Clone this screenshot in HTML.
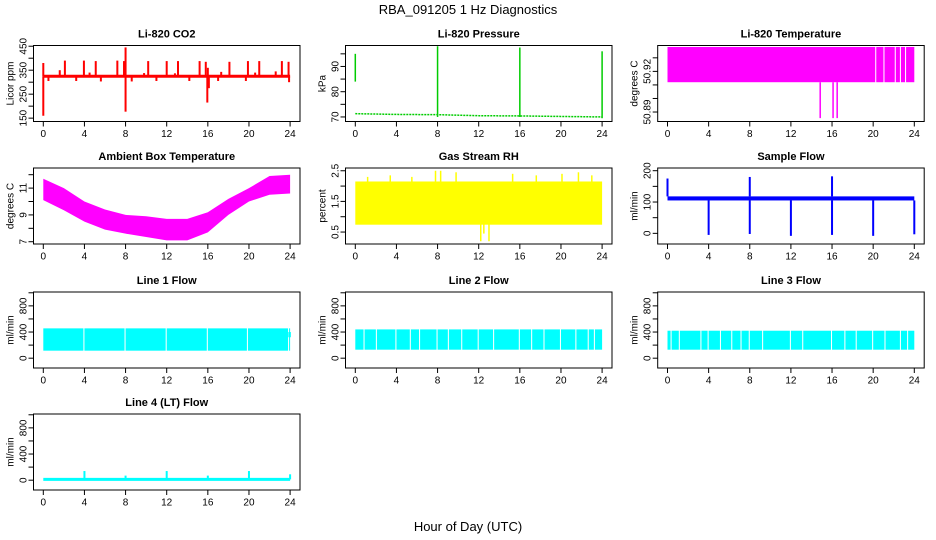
<!DOCTYPE html>
<html><head><meta charset="utf-8">
<style>
html,body{margin:0;padding:0;background:#fff;}
svg{display:block;font-family:"Liberation Sans",Arial,sans-serif;}
.t{font-size:11px;font-weight:bold;text-anchor:middle;}
.tk{font-size:10px;text-anchor:middle;}
</style></head>
<body>
<svg id="chart" width="936" height="540" viewBox="0 0 936 540" xmlns="http://www.w3.org/2000/svg">
<text x="468" y="14" style="font-size:13px;text-anchor:middle">RBA_091205  1 Hz Diagnostics</text>
<text x="468" y="531" style="font-size:13px;text-anchor:middle">Hour of Day (UTC)</text>
</svg>
<script>
// ---- data ----
const xTicks = [0,4,8,12,16,20,24];
// CO2
const co2Base = 325;
const co2SpikeHours = [0,2.1,3.95,5.1,7.2,7.85,8.0,10.2,12.0,13.1,15.2,15.8,16.0,18.1,19.9,21.0,23.2,23.85,1.6,4.5,9.8,12.8,17.3,20.6,22.6,0,8.0,15.95,16.1,0.5,3.2,5.6,8.6,11.0,14.2,17.0,19.7,23.9];
const co2SpikeValues = [380,390,390,388,390,388,445,388,388,388,388,385,360,385,388,388,388,385,350,340,338,337,343,340,345,160,177,215,275,305,305,303,303,305,305,305,305,300];
// Pressure
const presHours = [0,4,8,12,16,20,24];
const presValues = [71.3,71.0,70.9,70.5,70.4,70.2,70.0];
const presSpikeHours = [0,8,16,24];
const presSpikeLow = [84,70,70,69.5];
const presSpikeHigh = [95,98,97.5,96];
// Li-820 temperature
const ltempLow = 50.912, ltempHigh = 50.938;
const ltempGapHours = [20.2,21.0,22.1,22.6,23.1];
const ltempDipHours = [14.85,16.1,16.5];
const ltempDipValue = 50.8855;
// Ambient box temperature
const ambHours = [0,2,4,6,8,10,12,14,16,18,20,22,24];
const ambHigh = [11.7,11.0,10.0,9.4,9.0,8.9,8.7,8.7,9.2,10.2,11.0,11.9,12.0];
const ambLow = [10.1,9.35,8.5,7.9,7.6,7.35,7.1,7.1,7.7,9.0,10.0,10.5,10.6];
// Gas stream RH
const rhLow = 0.74, rhHigh = 2.15;
const rhSpikeHours = [1.2,3.4,5.5,7.8,8.3,9.8,12.2,13.0,15.3,17.6,20.1,21.7,23.0,12.5];
const rhSpikeValues = [2.3,2.35,2.3,2.5,2.5,2.45,0.2,0.2,2.4,2.35,2.4,2.45,2.35,0.45];
// Sample flow
const sfLow = 105, sfHigh = 118;
const sfDropHours = [4,8,12,16,20,24];
const sfDropValues = [-5,-2,-8,-5,-8,-3];
const sfPeakHours = [0,8,16];
const sfPeakValues = [175,180,182];
// Line flows
const l1Low = 115, l1High = 456, l1Gaps = [3.9,7.9,11.9,15.9,19.8,23.8];
const l2Low = 130, l2High = 440, l2Gaps = [0.8,2.0,3.9,5.3,6.2,7.9,9.0,10.3,11.9,13.4,15.9,17.1,18.3,19.9,21.4,22.6,23.2];
const l3Low = 130, l3High = 420, l3Gaps = [0.3,1.1,3.2,3.9,5.1,6.2,7.1,7.9,9.2,11.9,13.1,15.9,17.2,18.3,19.9,21.1,22.6,23.3];
const l4Base = 12;
const l4SpikeHours = [4,8,12,16,20,24];
const l4SpikeValues = [140,70,140,70,140,90];

// ---- layout ----
const svg = document.getElementById('chart');
const NS = 'http://www.w3.org/2000/svg';
const colLeft = [33.5,345.5,657.7], rowTop = [45.5,168,292,414];
const W = 266.5, H = 76;
function mk(tag, attrs, parent){const e=document.createElementNS(NS,tag);for(const k in attrs)e.setAttribute(k,attrs[k]);(parent||svg).appendChild(e);return e;}

function panel(name, col, row, title, ylab, ymin, ymax, ticks, labels){
  const L = colLeft[col], T = rowTop[row];
  const g = mk('g',{});
  
  
  const xs = h => L + 9.8 + h*(246.8/24);
  const ys = v => T + H - (v-ymin)/(ymax-ymin)*H;
  const tt = mk('text',{x:L+W/2,y:T-8,class:'t'},g); tt.textContent = title;
  
  
  const yl = mk('text',{x:0,y:0,transform:`translate(${L-20},${T+H/2}) rotate(-90)`,class:'tk'},g); yl.textContent = ylab;
  
  
  const plot = mk('g',{},g);
  
  
  // x axis
  const xa = mk('g',{},g);
  
  
  xTicks.forEach(h=>{
    mk('line',{x1:xs(h),x2:xs(h),y1:T+H,y2:T+H+5,stroke:'#000'},xa);
    const t=mk('text',{x:xs(h),y:T+H+15.5,class:'tk'},xa); t.textContent=h;
  });
  mk('line',{x1:xs(0),x2:xs(24),y1:T+H,y2:T+H,stroke:'#000'},xa);
  const ya = mk('g',{},g);
  
  
  ticks.forEach((v,i)=>{
    mk('line',{x1:L-5,x2:L,y1:ys(v),y2:ys(v),stroke:'#000'},ya);
    if(labels[i]!==''){const t=mk('text',{x:0,y:0,transform:`translate(${L-7},${ys(v)}) rotate(-90)`,class:'tk'},ya);t.textContent=labels[i];}
  });
  const frame = mk('rect',{x:L,y:T,width:W,height:H,fill:'none',stroke:'#000'},g);
  
  
  return {plot,xs,ys,g};
}
function band(p, lo, hi, gaps, color, gw){
  let start=0; const stops=gaps.concat([24]);
  stops.forEach(s=>{ if(s>start) mk('rect',{x:p.xs(start),y:p.ys(hi),width:p.xs(s)-p.xs(start),height:p.ys(lo)-p.ys(hi),fill:color},p.plot); start=s+gw; });
}
function vseg(p,h,a,b,color,w){mk('line',{x1:p.xs(h),x2:p.xs(h),y1:p.ys(a),y2:p.ys(b),stroke:color,'stroke-width':w||1.5},p.plot);}

// CO2
let p = panel('co2',0,0,'Li-820 CO2','Licor ppm',136,453,[150,200,250,300,350,400,450],['150','','250','','350','','450']);
mk('line',{x1:p.xs(0),x2:p.xs(24),y1:p.ys(co2Base),y2:p.ys(co2Base),stroke:'#f00','stroke-width':3},p.plot);
co2SpikeHours.forEach((h,i)=>vseg(p,h,co2Base,co2SpikeValues[i],'#f00',2));
// Pressure
p = panel('pressure',1,0,'Li-820 Pressure','kPa',68.2,98.3,[70,75,80,85,90,95],['70','','80','','90','']);
mk('polyline',{points:presHours.map((h,i)=>p.xs(h)+','+p.ys(presValues[i])).join(' '),fill:'none',stroke:'#0c0','stroke-width':1.5,'stroke-dasharray':'2 1'},p.plot);
presSpikeHours.forEach((h,i)=>vseg(p,h,presSpikeLow[i],presSpikeHigh[i],'#0c0',1.5));
// Li temp
p = panel('li820-temperature',2,0,'Li-820 Temperature','degrees C',50.883,50.9391,[50.89,50.90,50.91,50.92,50.93],['50.89','','','50.92','']);
band(p,ltempLow,ltempHigh,ltempGapHours,'#f0f',0.1);
ltempDipHours.forEach(h=>vseg(p,h,ltempLow,ltempDipValue,'#f0f',1.5));
// Ambient
p = panel('ambient-temperature',0,1,'Ambient Box Temperature','degrees C',6.83,12.5,[7,8,9,10,11,12],['7','','9','','11','']);
mk('polygon',{points:ambHours.map((h,i)=>p.xs(h)+','+p.ys(ambHigh[i])).concat(ambHours.slice().reverse().map((h,j)=>p.xs(h)+','+p.ys(ambLow[ambHours.length-1-j]))).join(' '),fill:'#f0f'},p.plot);
// RH
p = panel('gas-stream-rh',1,1,'Gas Stream RH','percent',0.11,2.59,[0.5,1,1.5,2,2.5],['0.5','','1.5','','2.5']);
band(p,rhLow,rhHigh,[],'#ff0',0);
rhSpikeHours.forEach((h,i)=>vseg(p,h,(rhLow+rhHigh)/2,rhSpikeValues[i],'#ff0',1.5));
// Sample flow
p = panel('sample-flow',2,1,'Sample Flow','ml/min',-34,208.6,[0,50,100,150,200],['0','','100','','200']);
band(p,sfLow,sfHigh,[],'#00f',0);
sfDropHours.forEach((h,i)=>vseg(p,h,sfLow,sfDropValues[i],'#00f',2));
sfPeakHours.forEach((h,i)=>vseg(p,h,sfHigh,sfPeakValues[i],'#00f',2));
// Line flows
const fT=[0,200,400,600,800,1000], fL=['0','','400','','800',''];
p = panel('line1-flow',0,2,'Line 1 Flow','ml/min',-150,1012,fT,fL);
band(p,l1Low,l1High,l1Gaps,'#0ff',0.1); vseg(p,23.95,320,400,'#0ff',2.5);
p = panel('line2-flow',1,2,'Line 2 Flow','ml/min',-150,1012,fT,fL);
band(p,l2Low,l2High,l2Gaps,'#0ff',0.1);
p = panel('line3-flow',2,2,'Line 3 Flow','ml/min',-150,1012,fT,fL);
band(p,l3Low,l3High,l3Gaps,'#0ff',0.1);
p = panel('line4-flow',0,3,'Line 4 (LT) Flow','ml/min',-150,1012,fT,fL);
mk('line',{x1:p.xs(0),x2:p.xs(24),y1:p.ys(l4Base),y2:p.ys(l4Base),stroke:'#0ff','stroke-width':3},p.plot);
l4SpikeHours.forEach((h,i)=>vseg(p,h,l4Base,l4SpikeValues[i],'#0ff',2));
</script>
</body></html>
